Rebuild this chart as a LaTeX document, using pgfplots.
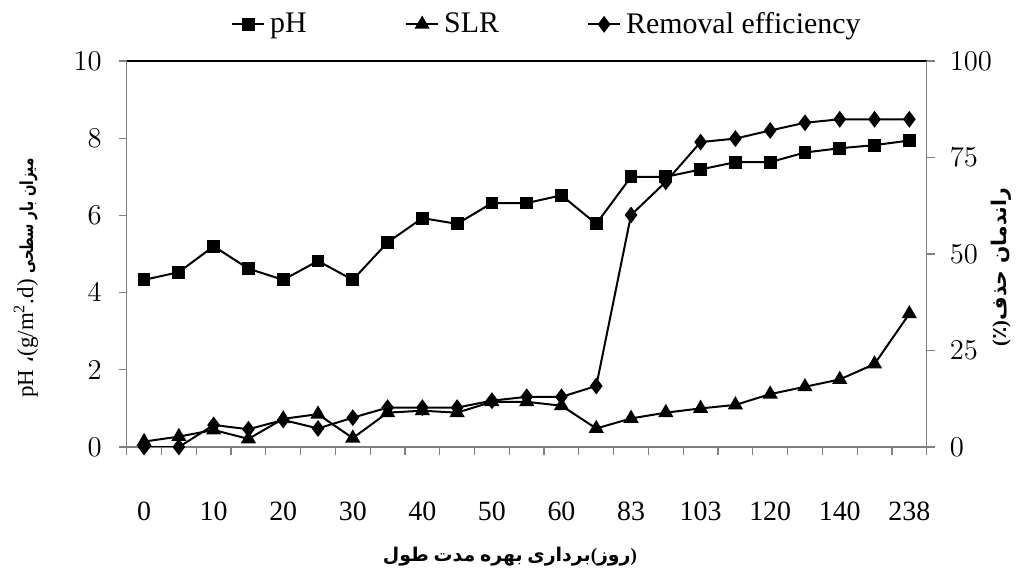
\documentclass[border=0pt]{standalone}
\usepackage{fontspec}
\setmainfont{Liberation Serif}
\newfontfamily\arabicfont[Script=Arabic]{DejaVu Sans}
\newfontfamily\arabicnarrow[Script=Arabic, FakeStretch=0.75]{DejaVu Sans}
\usepackage{pgfplots}
\usepackage{pgfplotstable}
\pgfplotsset{compat=1.18}
\TeXXeTstate=1

% day index (23 sampling days), pH, SLR (g/m2.d), removal efficiency (%)
\pgfplotstableread{
idx ph   slr  re
0   4.33 0.14 0
1   4.53 0.27 0
2   5.20 0.44 5.7
3   4.62 0.21 4.6
4   4.33 0.73 7.0
5   4.82 0.85 4.8
6   4.33 0.23 7.6
7   5.30 0.89 10.2
8   5.93 0.94 10.2
9   5.78 0.89 10.2
10  6.32 1.17 12.0
11  6.32 1.17 13.0
12  6.52 1.07 13.0
13  5.78 0.48 15.8
14  7.00 0.74 60.1
15  7.00 0.89 68.7
16  7.19 1.00 79.0
17  7.38 1.09 79.9
18  7.38 1.37 82.0
19  7.63 1.56 84.0
20  7.74 1.75 84.9
21  7.82 2.15 84.9
22  7.94 3.45 84.9
}\datatable

\pgfplotsset{
  base/.style={
    scale only axis, width=400bp, height=193bp,
    at={(0,0)}, anchor=south west,
    xmin=-0.5, xmax=22.5,
    tick align=outside,
    major tick length=4bp, minor tick length=4bp,
    tick style={gray, line width=0.6pt},
    tick label style={font=\fontsize{14}{14}\selectfont},
  },
  phline/.style={black, line width=1bp, mark=square*, mark size=2.7bp, mark options={solid}},
  slrline/.style={black, line width=1bp, mark=triangle*, mark size=3.4bp, mark options={solid}},
  reline/.style={black, line width=1bp, mark=diamond*, mark size=3.4bp, mark options={solid}},
}

\begin{document}
\begin{tikzpicture}
\path[use as bounding box] (-63.35bp,-62.5bp) rectangle (445.15bp,223.5bp);

\begin{axis}[base,
  ymin=0, ymax=10, ytick={0,2,...,10},
  axis x line*=bottom, axis y line*=left,
  x axis line style={gray, line width=0.6pt, -},
  y axis line style={gray, line width=0.6pt, -},
  xtick={-0.5,0.5,...,22.5}, xticklabels={},
  extra x ticks={0,2,...,22},
  extra x tick labels={0,10,20,30,40,50,60,83,103,120,140,238},
  extra x tick style={major tick length=0pt, xticklabel style={anchor=center, yshift=-32bp}},
  yticklabel style={anchor=east, xshift=-5bp},
  ylabel={pH {\arabicfont ،}(g/m\textsuperscript{2}.d) {\arabicnarrow\bfseries\fontsize{9}{10}\selectfont\beginR میزان بار سطحی\endR}},
  ylabel style={at={(axis description cs:-0.126,0.438)}, anchor=center, rotate=0, font=\fontsize{11.5}{12}\selectfont},
  xlabel={\bfseries\mbox{\arabicfont طول} \mbox{\arabicfont مدت} \mbox{\arabicfont بهره} \mbox{\arabicfont برداری}(\mbox{\arabicfont روز})},
  xlabel style={at={(axis description cs:0.479,-0.285)}, anchor=center, font=\fontsize{9.5}{10}\selectfont},
]
\addplot[phline] table[x=idx, y=ph] {\datatable};
\addplot[slrline] table[x=idx, y=slr] {\datatable};
\end{axis}

\begin{axis}[base,
  ymin=0, ymax=100, ytick={0,25,...,100},
  axis x line*=top, axis y line*=right,
  x axis line style={black, line width=0.6pt, -},
  y axis line style={gray, line width=0.6pt, -},
  xtick=\empty,
  yticklabel style={anchor=west, xshift=4bp},
  ylabel={\bfseries ({\arabicfont ٪}){\arabicfont\beginR راندمان حذف\endR}},
  ylabel style={at={(axis description cs:1.093,0.466)}, anchor=center, rotate=0, font=\fontsize{10.2}{11}\selectfont},
  legend columns=3,
  legend style={at={(axis description cs:0.527,1.095)}, anchor=center, draw=none, fill=none,
    font=\fontsize{15}{15}\selectfont, inner sep=0pt,
    nodes={inner xsep=2.5bp}},
  legend image code/.code={
    \draw[mark repeat=2, mark phase=2] plot coordinates {(0bp,0bp) (8bp,0bp) (16bp,0bp)};
  },
]
\addlegendimage{phline}
\addlegendentry{\makebox[65bp][l]{pH}}
\addlegendimage{slrline}
\addlegendentry{\makebox[69bp][l]{SLR}}
\addplot[reline] table[x=idx, y=re] {\datatable};
\addlegendentry{Removal efficiency}
\end{axis}
\end{tikzpicture}
\end{document}
